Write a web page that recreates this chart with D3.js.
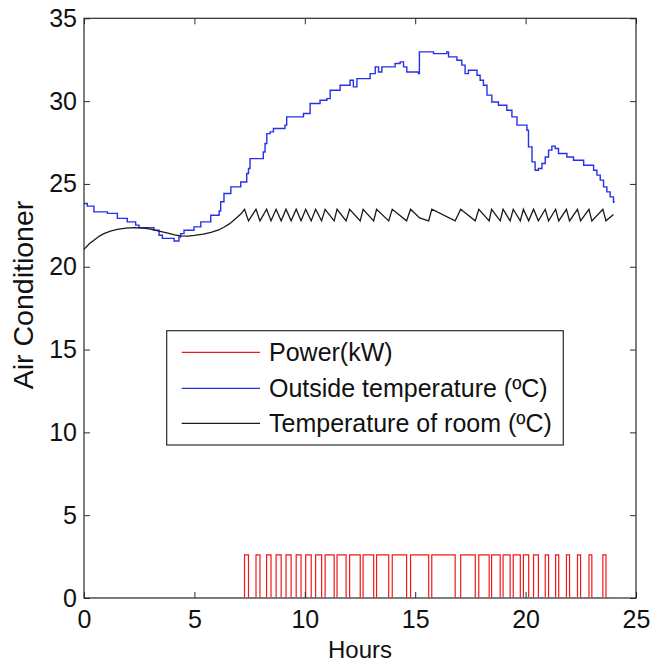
<!DOCTYPE html>
<html>
<head>
<meta charset="utf-8">
<script src="https://cdn.jsdelivr.net/npm/d3@7/dist/d3.min.js"></script>
<style>
  html, body { margin: 0; padding: 0; background: #fff; }
  svg { display: block; font-family: "Liberation Sans", Arial, sans-serif; }
</style>
</head>
<body>
<svg id="chart" width="653" height="666"></svg>
<script>
// ---------------- DATA ----------------
const xTicks = [0, 5, 10, 15, 20, 25];
const yTicks = [0, 5, 10, 15, 20, 25, 30, 35];
const seriesNames = ["Power(kW)", "Outside temperature (ºC)", "Temperature of room (ºC)"];
const xLabel = "Hours";
const yLabel = "Air Conditioner";

// Power: on-periods (start hour, end hour), level in kW
const powerLevel = 2.6;
const powerStart = [7.27, 7.79, 8.27, 8.70, 9.15, 9.61, 10.04, 10.49, 10.92, 11.46, 12.03, 12.64, 13.25, 13.96, 14.79, 15.75,
  17.06, 17.88, 18.46, 18.98, 19.44, 19.90, 20.36, 20.89, 21.36, 21.85, 22.35, 22.87, 23.50];
const powerEnd = [7.45, 7.97, 8.47, 8.93, 9.38, 9.83, 10.29, 10.76, 11.33, 11.87, 12.51, 13.12, 13.80, 14.61, 15.61, 16.81,
  17.72, 18.35, 18.85, 19.30, 19.76, 20.14, 20.58, 21.04, 21.50, 21.99, 22.49, 23.00, 23.64];

// Outside temperature (step after): hour, °C
const outsideHours = [0, 0.15, 0.45, 1.06, 1.51, 1.96, 2.34, 2.49, 3.17, 3.4, 3.55, 4.08, 4.3, 4.38, 4.53, 4.98, 5.29, 5.74, 6.12, 6.19, 6.34, 6.65, 7.1,
  7.37, 7.45, 7.52, 8.12, 8.2, 8.28, 8.43, 8.58, 9.1, 9.18, 9.94, 10.24, 10.69, 11.0, 11.15, 11.6, 12.05, 12.2, 12.36, 12.96, 13.19, 13.34, 13.49,
  14.09, 14.32, 14.47, 14.62, 15.15, 15.19, 15.83, 16.43, 16.51, 16.89, 17.11, 17.26, 17.41, 17.8, 17.94, 18.09, 18.25, 18.47, 18.77, 19.15,
  19.38, 19.61, 20.06, 20.13, 20.29, 20.43, 20.58, 20.74, 20.89, 21.04, 21.19, 21.34, 21.49, 21.87, 22.17, 22.63, 23.08, 23.23, 23.38, 23.53,
  23.68, 23.83, 23.98, 24.0];
const outsideTemp = [23.82, 23.66, 23.31, 23.22, 22.92, 22.71, 22.51, 22.35, 22.21, 21.9, 21.71, 21.55, 21.8, 22.0, 22.2, 22.41, 22.71, 23.11, 23.37, 23.92, 24.42, 24.82, 25.12,
  25.63, 25.93, 26.53, 26.93, 27.44, 28.04, 28.14, 28.35, 28.55, 29.05, 29.25, 29.86, 30.05, 30.15, 30.66, 30.96, 31.26, 30.86, 31.36, 31.66, 32.07, 31.76, 32.07,
  32.27, 32.37, 32.07, 31.76, 31.66, 32.97, 32.87, 32.97, 32.67, 32.47, 32.17, 31.66, 31.86, 31.56, 31.26, 30.96, 30.36, 29.95, 29.75, 29.45,
  29.05, 28.55, 28.24, 27.24, 26.33, 25.83, 25.93, 26.23, 26.63, 27.04, 27.28, 27.14, 26.84, 26.63, 26.43, 26.13, 25.83, 25.53, 25.23, 24.82,
  24.52, 24.22, 23.92, 23.85];

// Room temperature: hour, °C
const roomHours = [0, 0.25, 0.45, 0.7, 0.9, 1.2, 1.5, 1.9, 2.3, 2.7, 3.0, 3.4, 3.8, 4.1, 4.38, 4.7, 5.0, 5.4, 5.75, 6.1, 6.35, 6.6, 6.85, 7.1, 7.27,
  7.45, 7.79, 7.97, 8.27, 8.47, 8.70, 8.93, 9.15, 9.38, 9.61, 9.83, 10.04, 10.29, 10.49, 10.76, 10.92, 11.33, 11.46, 11.87, 12.03, 12.51,
  12.64, 13.12, 13.25, 13.80, 13.96, 14.61, 14.79, 15.2, 15.61, 15.75, 16.81, 17.06, 17.72, 17.88, 18.35, 18.46, 18.85, 18.98, 19.30,
  19.44, 19.76, 19.90, 20.14, 20.36, 20.58, 20.89, 21.04, 21.36, 21.50, 21.85, 21.99, 22.35, 22.49, 22.87, 23.00, 23.50, 23.64, 23.98];
const roomTemp = [21.05, 21.4, 21.6, 21.85, 22.0, 22.15, 22.25, 22.33, 22.36, 22.33, 22.27, 22.15, 22.03, 21.93, 21.86, 21.85, 21.89, 21.97, 22.07, 22.22, 22.4, 22.6, 22.88, 23.18, 23.47,
  22.77, 23.47, 22.77, 23.47, 22.77, 23.47, 22.77, 23.47, 22.77, 23.47, 22.77, 23.47, 22.77, 23.47, 22.77, 23.47, 22.77, 23.47, 22.77, 23.47, 22.77,
  23.47, 22.77, 23.47, 22.77, 23.47, 22.77, 23.47, 22.95, 22.77, 23.47, 22.77, 23.47, 22.77, 23.47, 22.77, 23.47, 22.77, 23.47, 22.77,
  23.47, 22.77, 23.47, 22.77, 23.47, 22.77, 23.47, 22.77, 23.47, 22.77, 23.47, 22.77, 23.47, 22.77, 23.47, 22.77, 23.47, 22.77, 23.15];

// ---------------- CHART ----------------
const svg = d3.select("#chart");
const L = 84, R = 636, T = 18.3, B = 598;
const x = d3.scaleLinear().domain([0, 25]).range([L, R]);
const y = d3.scaleLinear().domain([0, 35]).range([B, T]);

const colors = { power: "#f01818", outside: "#2630e6", room: "#1a1a1a" };
const axisColor = "#2b2b2b";

// clip so that the zero baseline of the power trace sits under the axis line
svg.append("defs").append("clipPath").attr("id", "clipInner")
  .append("rect").attr("x", L).attr("y", T).attr("width", R - L).attr("height", B - T - 0.8);

// build power step series from on-periods
const powerPts = [[0, 0]];
powerStart.forEach((s, i) => {
  powerPts.push([s, 0], [s, powerLevel], [powerEnd[i], powerLevel], [powerEnd[i], 0]);
});
powerPts.push([24, 0]);

const outsidePts = outsideHours.map((h, i) => [h, outsideTemp[i]]);
const roomPts = roomHours.map((h, i) => [h, roomTemp[i]]);

const line = d3.line().x(d => x(d[0])).y(d => y(d[1]));
const stepLine = d3.line().x(d => x(d[0])).y(d => y(d[1])).curve(d3.curveStepAfter);

svg.append("path").datum(powerPts).attr("d", line).attr("clip-path", "url(#clipInner)")
  .attr("fill", "none").attr("stroke", colors.power).attr("stroke-width", 1.2);
svg.append("path").datum(outsidePts).attr("d", stepLine)
  .attr("fill", "none").attr("stroke", colors.outside).attr("stroke-width", 1.4);
svg.append("path").datum(roomPts).attr("d", line)
  .attr("fill", "none").attr("stroke", colors.room).attr("stroke-width", 1.3);

// axes
const fs = 25;
const gx = svg.append("g").attr("transform", `translate(0,${B})`)
  .call(d3.axisBottom(x).tickValues(xTicks).tickSize(-6).tickPadding(12.5).tickFormat(d3.format("d")));
const gy = svg.append("g").attr("transform", `translate(${L},0)`)
  .call(d3.axisLeft(y).tickValues(yTicks).tickSize(-6).tickPadding(7).tickFormat(d3.format("d")));
const gxt = svg.append("g").attr("transform", `translate(0,${T})`)
  .call(d3.axisTop(x).tickValues(xTicks).tickSize(-6).tickFormat(""));
const gyr = svg.append("g").attr("transform", `translate(${R},0)`)
  .call(d3.axisRight(y).tickValues(yTicks).tickSize(-6).tickFormat(""));
[gx, gy, gxt, gyr].forEach(g => {
  g.select(".domain").remove();
  g.selectAll("line").attr("stroke", axisColor).attr("stroke-width", 1);
  g.selectAll("text").attr("fill", "#111").style("font-size", fs + "px")
    .style("font-family", '"Liberation Sans", Arial, sans-serif');
});
svg.append("rect").attr("x", L).attr("y", T).attr("width", R - L).attr("height", B - T)
  .attr("fill", "none").attr("stroke", axisColor).attr("stroke-width", 1.2);

// axis labels
svg.append("text").attr("x", 360).attr("y", 658).attr("text-anchor", "middle")
  .style("font-size", "24px").attr("fill", "#111").text(xLabel);
svg.append("text").attr("transform", `translate(33,295) rotate(-90)`).attr("text-anchor", "middle")
  .style("font-size", "28.5px").attr("fill", "#111").text(yLabel);

// legend
const lg = svg.append("g");
lg.append("rect").attr("x", 166.7).attr("y", 330.7).attr("width", 396.6).attr("height", 114.3)
  .attr("fill", "#fff").attr("stroke", axisColor).attr("stroke-width", 1.2);
const legendColors = [colors.power, colors.outside, colors.room];
const legendY = [352.3, 388.3, 423.3];
seriesNames.forEach((name, i) => {
  lg.append("line").attr("x1", 181.7).attr("x2", 260).attr("y1", legendY[i]).attr("y2", legendY[i])
    .attr("stroke", legendColors[i]).attr("stroke-width", 1.3);
  lg.append("text").attr("x", 269).attr("y", legendY[i]).attr("dy", "0.36em")
    .style("font-size", "25px").attr("fill", "#111").text(name);
});
</script>
</body>
</html>
